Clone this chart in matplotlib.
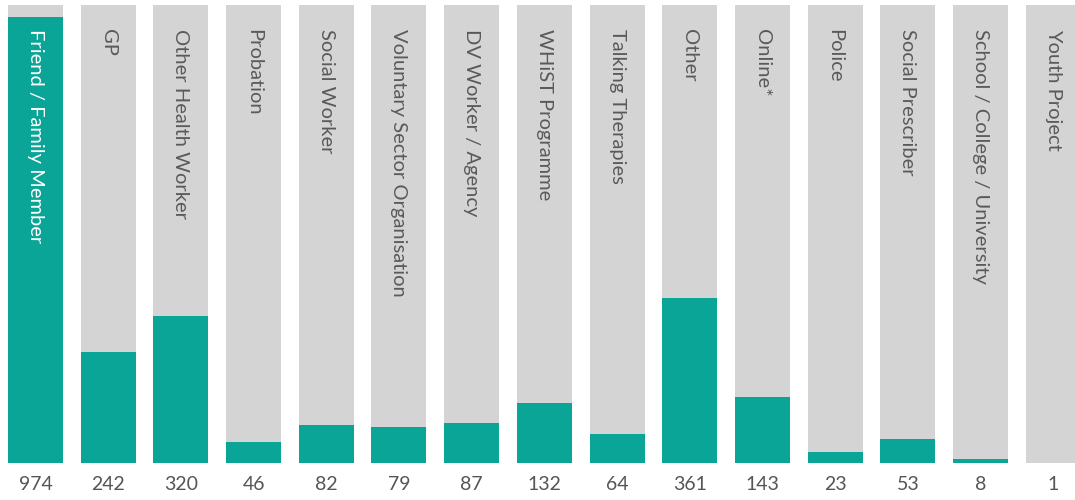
import matplotlib
matplotlib.use("Agg")
import matplotlib.pyplot as plt

categories = ["Friend / Family Member", "GP", "Other Health Worker", "Probation",
              "Social Worker", "Voluntary Sector Organisation", "DV Worker / Agency",
              "WHiST Programme", "Talking Therapies", "Other", "Online*", "Police",
              "Social Prescriber", "School / College / University", "Youth Project"]
values = [974, 242, 320, 46, 82, 79, 87, 132, 64, 361, 143, 23, 53, 8, 1]
max_value = 1000

TEAL = "#0aa597"
GRAY = "#d4d4d4"

fig = plt.figure(figsize=(10.75, 5.0), dpi=100)
ax = fig.add_axes([0, 0, 1, 1])
x = list(range(len(values)))
w = 0.756
ax.bar(x, [max_value] * len(values), width=w, color=GRAY, zorder=1)
ax.bar(x, values, width=w, color=TEAL, zorder=2)

ax.set_xlim(-0.488, 14.30)
ax.set_ylim(-80.8, 1010.9)
ax.axis("off")

font = "Lato"
for i, (c, v) in enumerate(zip(categories, values)):
    col = "white" if v > 900 else "#5a5a5a"
    ax.text(i, 948, c, rotation=270, ha="center", va="top", fontsize=14.5,
            color=col, family=font, zorder=3)
    ax.text(i, -48, str(v), ha="center", va="center", fontsize=14,
            color="#555555", family=font, zorder=3)

fig.savefig("out.png", dpi=100)
